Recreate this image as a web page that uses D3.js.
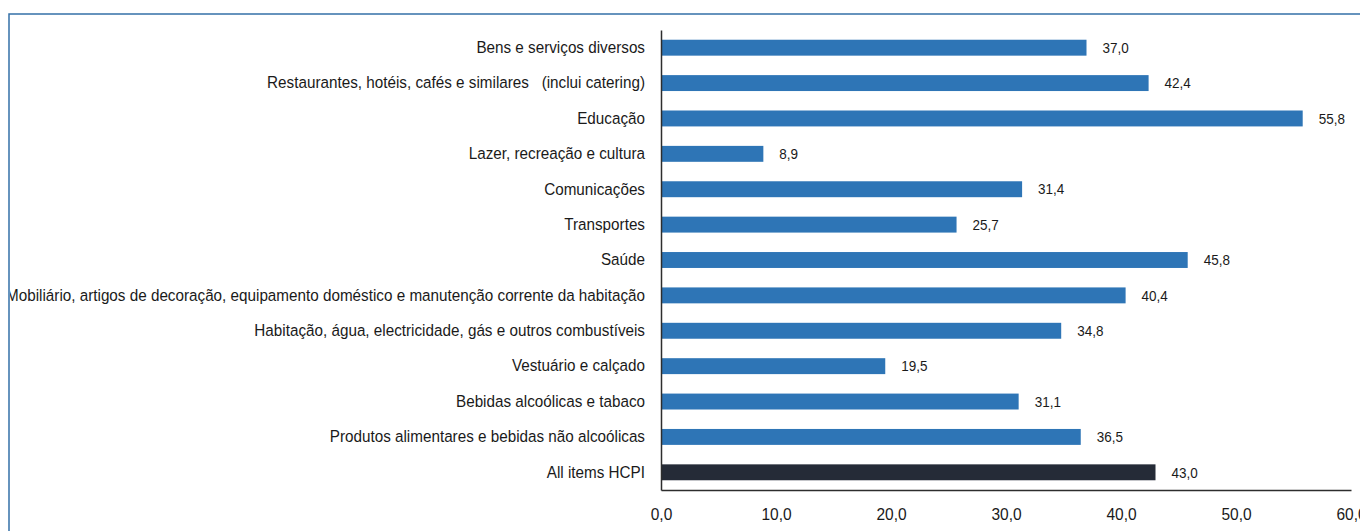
<!DOCTYPE html>
<html><head><meta charset="utf-8">
<script src="https://cdn.jsdelivr.net/npm/d3@7"></script>
<style>
html,body{margin:0;padding:0;background:#fff;overflow:hidden;}
text{font-family:"Liberation Sans",Arial,sans-serif;fill:#1a1a1a;white-space:pre;}
</style></head>
<body>
<svg id="c" width="1360" height="531"></svg>
<script>
const categories = [
  "Bens e serviços diversos",
  "Restaurantes, hotéis, cafés e similares   (inclui catering)",
  "Educação",
  "Lazer, recreação e cultura",
  "Comunicações",
  "Transportes",
  "Saúde",
  "Mobiliário, artigos de decoração, equipamento doméstico e manutenção corrente da habitação",
  "Habitação, água, electricidade, gás e outros combustíveis",
  "Vestuário e calçado",
  "Bebidas alcoólicas e tabaco",
  "Produtos alimentares e bebidas não alcoólicas",
  "All items HCPI"
];
const values = [37.0, 42.4, 55.8, 8.9, 31.4, 25.7, 45.8, 40.4, 34.8, 19.5, 31.1, 36.5, 43.0];
const tickValues = [0, 10, 20, 30, 40, 50, 60];
const fmt = v => v.toFixed(1).replace(".", ",");

const svg = d3.select("#c");
svg.append("defs").append("clipPath").attr("id", "frameClip")
  .append("rect").attr("x", 10).attr("y", 15).attr("width", 1400).attr("height", 600);

const g = svg.append("g").attr("clip-path", "url(#frameClip)");

const mLeft = 661, mRight = 1351, mTop = 30, mBottom = 490;
const x = d3.scaleLinear().domain([0, 60]).range([mLeft, mRight]);
const y = d3.scaleBand().domain(categories).range([mTop, mBottom]).paddingInner(0.55).paddingOuter(0.275);

const data = categories.map((c, i) => ({c, v: values[i], total: c === "All items HCPI"}));

g.append("g").selectAll("rect").data(data).join("rect")
  .attr("x", x(0) + 1).attr("y", d => y(d.c))
  .attr("width", d => x(d.v) - x(0) - 1).attr("height", y.bandwidth())
  .attr("fill", d => d.total ? "#252b37" : "#2e75b6");

g.append("g").selectAll("text").data(data).join("text")
  .attr("x", 0).attr("y", 0)
  .attr("transform", d => `translate(${x(d.v) + 16},${y(d.c) + y.bandwidth() / 2}) scale(0.93,1)`)
  .attr("dy", "0.36em").attr("font-size", "14.5px").text(d => fmt(d.v));

// y axis
const ya = g.append("g").attr("transform", `translate(${mLeft},0)`)
  .call(d3.axisLeft(y).tickSize(0).tickPadding(16));
ya.select(".domain").attr("stroke", "#2d2d2d").attr("stroke-width", 1.5);
ya.selectAll("text").attr("font-size", "16.5px").attr("fill", "#1a1a1a")
  .attr("font-family", '"Liberation Sans",Arial,sans-serif')
  .attr("x", 0).attr("transform", "translate(-16,0) scale(0.925,1)");

// x axis
const xa = g.append("g").attr("transform", `translate(0,${mBottom})`)
  .call(d3.axisBottom(x).tickValues(tickValues).tickSize(0).tickPadding(18).tickFormat(fmt));
xa.select(".domain").attr("stroke", "#2d2d2d").attr("stroke-width", 1.5);
xa.selectAll("text").attr("font-size", "16.5px").attr("fill", "#1a1a1a")
  .attr("font-family", '"Liberation Sans",Arial,sans-serif')
  .attr("y", 0).attr("transform", "translate(0,18) scale(0.94,1)");

// frame
svg.append("rect").attr("x", 9).attr("y", 14).attr("width", 1400).attr("height", 600)
  .attr("fill", "none").attr("stroke", "#3570a8").attr("stroke-width", 1.5);
</script>
</body></html>
